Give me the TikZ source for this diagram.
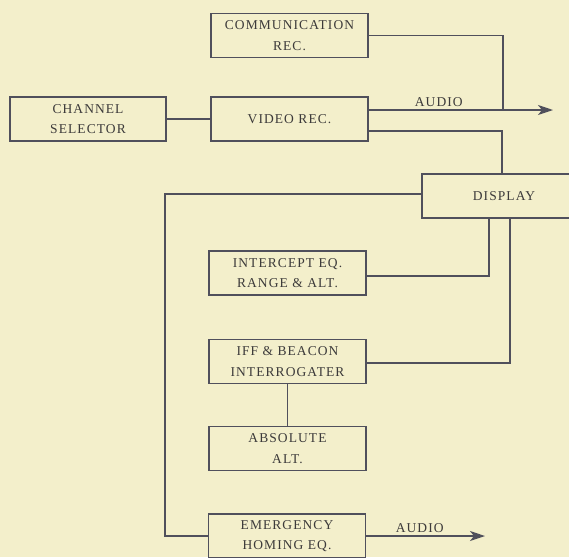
\documentclass[tikz,border=0pt]{standalone}
\usepackage{fontspec}
\setmainfont{Liberation Serif}[LetterSpace=8]
\usepackage{tikz}
\usetikzlibrary{positioning, calc, arrows.meta}

\definecolor{paper}{RGB}{243,239,203}
\definecolor{ink}{RGB}{80,80,92}
\definecolor{printink}{RGB}{60,58,58}

\tikzset{
    blockbox/.style={draw=ink, line width=1.7pt, minimum width=157pt, minimum height=44pt,
        align=center, inner sep=2pt, font=\fontsize{13.5}{20.5}\selectfont, text=printink},
    wire/.style={draw=ink, line width=1.7pt},
    sigarrow/.style={wire, -{Stealth[length=15pt, width=10pt, inset=4pt]}},
    siglabel/.style={font=\fontsize{13.5}{16}\selectfont, text=printink, inner sep=3pt}
}

\begin{document}
\begin{tikzpicture}[x=1pt, y=-1pt]
    % paper
    \fill[paper] (0,0) rectangle (569,557);
    \useasboundingbox (0,0) rectangle (569,557);
    \clip (0,0) rectangle (569,557);

    % top row
    \node[blockbox] (comm)    at (289.5,35.5) {COMMUNICATION\\REC.};
    \node[blockbox] (video)   at (289.5,119)  {VIDEO REC.};
    \node[blockbox, minimum width=156pt] (channel) at (88,119) {CHANNEL\\SELECTOR};
    \node[blockbox, minimum width=164pt] (display) at (504,196) {DISPLAY};

    % lower column
    \node[blockbox] (intercept) at (287.5,273)   {INTERCEPT EQ.\\RANGE \& ALT.};
    \node[blockbox] (iff)       at (287.5,361.5) {IFF \& BEACON\\INTERROGATER};
    \node[blockbox] (absolute)  at (287.5,448.5) {ABSOLUTE\\ALT.};
    \node[blockbox] (emerg)     at (287,536)     {EMERGENCY\\HOMING EQ.};

    % free ends
    \coordinate (audioout) at (553,110);
    \coordinate (merge) at (503,110);
    \coordinate (homingout) at (485,536);

    % connectors
    \draw[wire] (channel.east) -- (video.west);
    \draw[sigarrow] ([yshift=9pt]video.east) -- (audioout)
        node[siglabel, pos=0.38, above] {AUDIO};
    \draw[wire] (comm.east) -| (merge);
    \draw[wire] ([yshift=-12pt]video.east) -| ([xshift=-2pt]display.north);
    \draw[wire] ([yshift=2pt]display.west) -| ([xshift=-43pt]emerg.west) -- (emerg.west);
    \draw[wire] ([yshift=-3pt]intercept.east) -| ([xshift=-15pt]display.south);
    \draw[wire] ([yshift=-1.5pt]iff.east) -| ([xshift=6pt]display.south);
    \draw[wire] (iff.south) -- (absolute.north);
    \draw[sigarrow] (emerg.east) -- (homingout)
        node[siglabel, pos=0.45, above] {AUDIO};
\end{tikzpicture}
\end{document}
